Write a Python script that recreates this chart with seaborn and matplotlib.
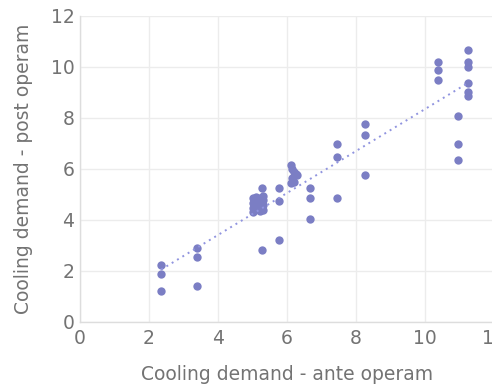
import numpy as np
import pandas as pd
import matplotlib
matplotlib.use("Agg")
import matplotlib.pyplot as plt
import seaborn as sns

# Cooling demand values (ante vs post operam)
ante = [2.35, 2.35, 2.35,
        3.38, 3.38, 3.38,
        5.0, 5.0, 5.0, 5.0, 5.1, 5.1, 5.1, 5.2, 5.2, 5.2, 5.3, 5.3, 5.3, 5.3,
        5.28, 5.28,
        5.75, 5.75, 5.75,
        6.1, 6.15, 6.2, 6.25, 6.3, 6.15, 6.2, 6.1,
        6.65, 6.65, 6.65,
        7.45, 7.45, 7.45,
        8.27, 8.27, 8.27,
        10.36, 10.36, 10.36,
        10.94, 10.94, 10.94,
        11.25, 11.25, 11.25, 11.25, 11.25, 11.25]
post = [2.22, 1.90, 1.22,
        2.91, 2.53, 1.42,
        4.85, 4.65, 4.45, 4.3, 4.9, 4.7, 4.5, 4.85, 4.6, 4.35, 4.8, 4.6, 4.4, 4.95,
        5.25, 2.83,
        5.25, 4.74, 3.22,
        6.15, 6.0, 5.9, 5.8, 5.75, 5.65, 5.5, 5.45,
        5.26, 4.87, 4.02,
        6.97, 6.47, 4.87,
        7.77, 7.35, 5.75,
        10.18, 9.88, 9.49,
        8.07, 6.97, 6.37,
        10.68, 10.18, 10.01, 9.38, 9.03, 8.87]

df = pd.DataFrame({"ante": ante, "post": post})

sns.set_theme(style="whitegrid")
plt.rcParams['font.family'] = ['DejaVu Sans']

fig = plt.figure(figsize=(4.92, 3.84), dpi=100)
ax = fig.add_axes([0.1626, 0.1615, 0.842, 0.797])

sns.regplot(data=df, x="ante", y="post", ax=ax, ci=None,
            scatter_kws=dict(s=36, color="#7b7ec4", alpha=1, linewidths=0),
            line_kws=dict(color="#9094df", linestyle=(0, (1, 2.2)), linewidth=1.4))

ax.set_xlim(0, 12)
ax.set_ylim(0, 12)
ax.set_xticks(range(0, 13, 2))
ax.set_yticks(range(0, 13, 2))
ax.grid(True, color="#ececec", linewidth=1)
for side in ["top", "right"]:
    ax.spines[side].set_visible(False)
for side in ["left", "bottom"]:
    ax.spines[side].set_color("#dddddd")
    ax.spines[side].set_linewidth(1)
ax.tick_params(axis="both", length=0, labelsize=13.5, labelcolor="#737373")
ax.tick_params(axis="x", pad=5)
ax.tick_params(axis="y", pad=4)
ax.set_xlabel("Cooling demand - ante operam", fontsize=13.5, color="#737373", labelpad=12)
ax.set_ylabel("Cooling demand - post operam", fontsize=13.5, color="#737373", labelpad=13)

fig.savefig("out.png", dpi=100)
